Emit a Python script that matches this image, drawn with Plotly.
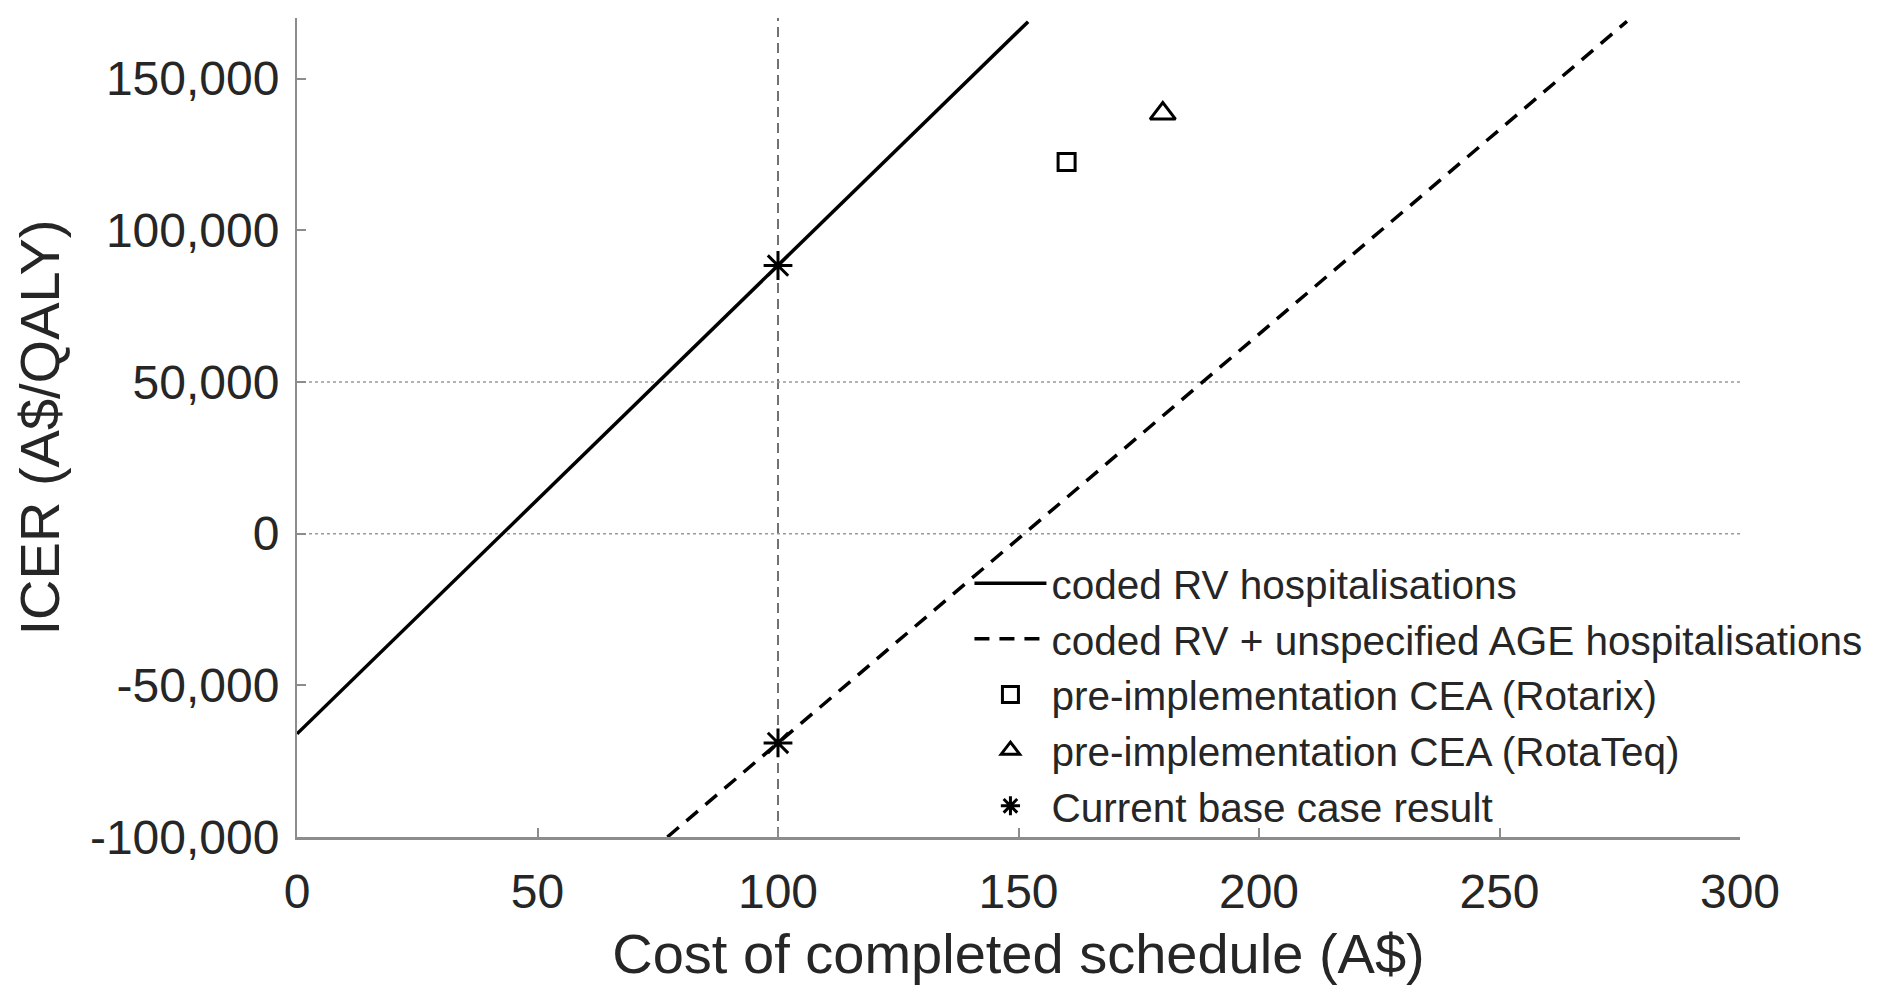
import plotly.graph_objects as go

# Data
coded_x = [0, 152]
coded_y = [-66000, 168800]
coded_age_x = [77, 276.5]
coded_age_y = [-100000, 168900]
rotarix_x = [160]
rotarix_y = [122500]
rotateq_x = [180]
rotateq_y = [138500]
base_x = [100, 100]
base_y = [88400, -69000]
threshold_x = 100
hlines_y = [50000, 0]

x_ticks = [0, 50, 100, 150, 200, 250, 300]
y_ticks = [-100000, -50000, 0, 50000, 100000, 150000]
y_ticktext = ["-100,000", "-50,000", "0", "50,000", "100,000", "150,000"]

FONT = "Liberation Sans, Arial, sans-serif"
TXT = "#262626"
AX = "#8c8c8c"

fig = go.Figure()

fig.add_trace(go.Scatter(x=coded_x, y=coded_y, mode="lines",
                         line=dict(color="black", width=3.5),
                         name="coded RV hospitalisations"))
fig.add_trace(go.Scatter(x=coded_age_x, y=coded_age_y, mode="lines",
                         line=dict(color="black", width=3.5, dash="15px,10px"),
                         name="coded RV + unspecified AGE hospitalisations"))
fig.add_trace(go.Scatter(x=rotarix_x, y=rotarix_y, mode="markers",
                         marker=dict(symbol="square-open", size=17, color="black",
                                     line=dict(width=3, color="black")),
                         name="pre-implementation CEA (Rotarix)"))
fig.add_trace(go.Scatter(x=rotateq_x, y=rotateq_y, mode="markers",
                         marker=dict(symbol="triangle-up-open", size=22, color="black",
                                     line=dict(width=3, color="black")),
                         name="pre-implementation CEA (RotaTeq)"))
fig.add_trace(go.Scatter(x=base_x, y=base_y, mode="markers",
                         marker=dict(symbol="asterisk-open", size=24, color="black",
                                     line=dict(width=3, color="black")),
                         name="Current base case result"))

for yv in hlines_y:
    fig.add_shape(type="line", xref="x", yref="y", x0=0, x1=300, y0=yv, y1=yv,
                  line=dict(color="#9a9a9a", width=1.5, dash="dot"), layer="below")
fig.add_shape(type="line", xref="x", yref="paper", x0=threshold_x, x1=threshold_x, y0=0, y1=1,
              line=dict(color="#444444", width=1.5, dash="10px,6px"), layer="below")

fig.update_layout(
    width=1881, height=990,
    margin=dict(l=297, r=141, t=18, b=153),
    paper_bgcolor="white", plot_bgcolor="white",
    font=dict(family=FONT, color=TXT, size=48),
    showlegend=True,
    legend=dict(x=0.466, y=0.35, xanchor="left", yanchor="top",
                bgcolor="rgba(0,0,0,0)", borderwidth=0,
                font=dict(size=40.5, family=FONT, color=TXT),
                itemwidth=72, tracegroupgap=0),
)
fig.update_xaxes(range=[0, 300], tickvals=x_ticks, showgrid=False, zeroline=False,
                 showline=True, linecolor=AX, linewidth=3,
                 ticks="inside", ticklen=9, tickcolor=AX, tickwidth=1.5,
                 tickfont=dict(size=48, family=FONT, color=TXT),
                 ticklabelstandoff=10,
                 title=dict(text="Cost of completed schedule (A$)",
                            font=dict(size=56, family=FONT, color=TXT), standoff=18))
fig.update_yaxes(range=[-100000, 170000], tickvals=y_ticks, ticktext=y_ticktext,
                 showgrid=False, zeroline=False,
                 showline=True, linecolor=AX, linewidth=2,
                 ticks="inside", ticklen=9, tickcolor=AX, tickwidth=1.5,
                 tickfont=dict(size=48, family=FONT, color=TXT),
                 ticklabelstandoff=6,
                 title=dict(text="ICER (A$/QALY)",
                            font=dict(size=56, family=FONT, color=TXT), standoff=12))

fig.write_html("out.html")
